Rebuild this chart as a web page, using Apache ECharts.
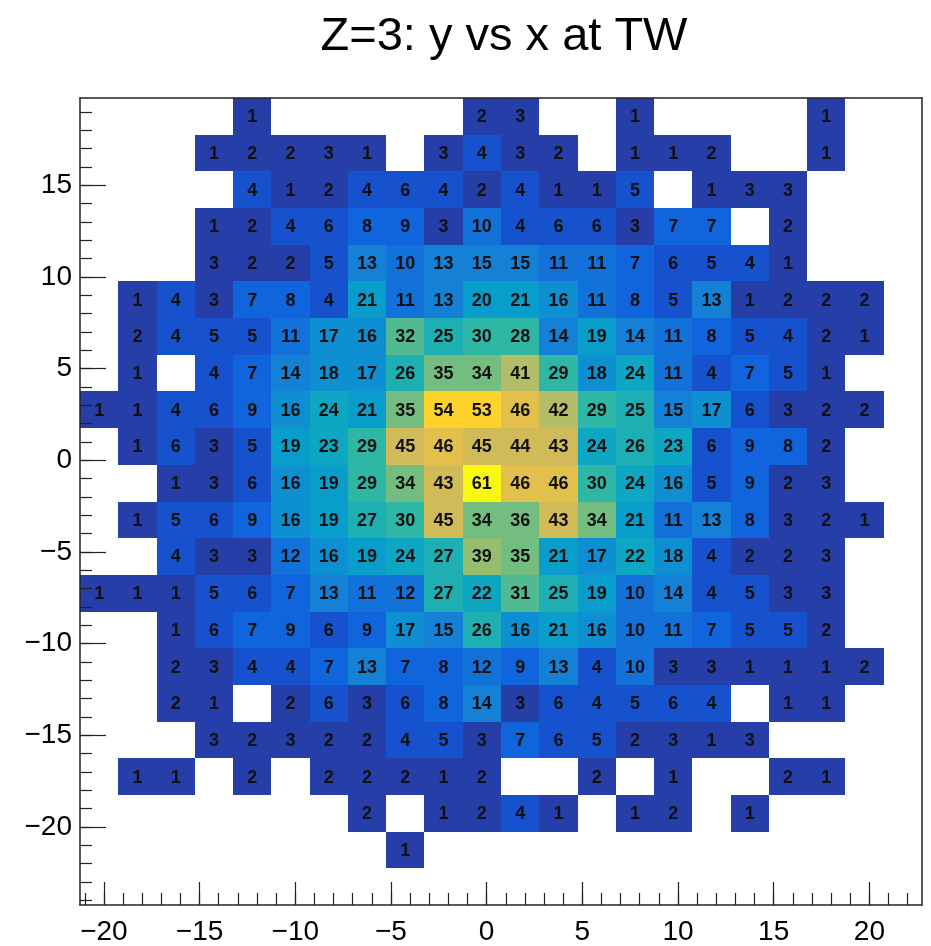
<!DOCTYPE html>
<html>
<head>
<meta charset="utf-8">
<script src="https://cdn.jsdelivr.net/npm/echarts@6/dist/echarts.min.js"></script>
<style>
html,body{margin:0;padding:0;background:#fff;}
#chart{width:931px;height:946px;}
</style>
</head>
<body>
<div id="chart"></div>
<script>
// ---------------- data ----------------
const chartTitle = 'Z=3: y vs x at TW';
const binWidth = 2;
const binHeight = 2;
const xRange = [-21.25, 22.75];
const yRange = [-24.25, 19.75];
// bin centres (x: left to right, y: top to bottom)
const xCenters = [-20.25, -18.25, -16.25, -14.25, -12.25, -10.25, -8.25, -6.25, -4.25, -2.25, -0.25,
                  1.75, 3.75, 5.75, 7.75, 9.75, 11.75, 13.75, 15.75, 17.75, 19.75, 21.75];
const yCenters = [18.75, 16.75, 14.75, 12.75, 10.75, 8.75, 6.75, 4.75, 2.75, 0.75, -1.25,
                  -3.25, -5.25, -7.25, -9.25, -11.25, -13.25, -15.25, -17.25, -19.25, -21.25, -23.25];
// bin contents, one row per y bin (top to bottom), one column per x bin (left to right); 0 = empty
const counts = [
  [0,0,0,0,1,0,0,0,0,0,2,3,0,0,1,0,0,0,0,1,0,0],
  [0,0,0,1,2,2,3,1,0,3,4,3,2,0,1,1,2,0,0,1,0,0],
  [0,0,0,0,4,1,2,4,6,4,2,4,1,1,5,0,1,3,3,0,0,0],
  [0,0,0,1,2,4,6,8,9,3,10,4,6,6,3,7,7,0,2,0,0,0],
  [0,0,0,3,2,2,5,13,10,13,15,15,11,11,7,6,5,4,1,0,0,0],
  [0,1,4,3,7,8,4,21,11,13,20,21,16,11,8,5,13,1,2,2,2,0],
  [0,2,4,5,5,11,17,16,32,25,30,28,14,19,14,11,8,5,4,2,1,0],
  [0,1,0,4,7,14,18,17,26,35,34,41,29,18,24,11,4,7,5,1,0,0],
  [1,1,4,6,9,16,24,21,35,54,53,46,42,29,25,15,17,6,3,2,2,0],
  [0,1,6,3,5,19,23,29,45,46,45,44,43,24,26,23,6,9,8,2,0,0],
  [0,0,1,3,6,16,19,29,34,43,61,46,46,30,24,16,5,9,2,3,0,0],
  [0,1,5,6,9,16,19,27,30,45,34,36,43,34,21,11,13,8,3,2,1,0],
  [0,0,4,3,3,12,16,19,24,27,39,35,21,17,22,18,4,2,2,3,0,0],
  [1,1,1,5,6,7,13,11,12,27,22,31,25,19,10,14,4,5,3,3,0,0],
  [0,0,1,6,7,9,6,9,17,15,26,16,21,16,10,11,7,5,5,2,0,0],
  [0,0,2,3,4,4,7,13,7,8,12,9,13,4,10,3,3,1,1,1,2,0],
  [0,0,2,1,0,2,6,3,6,8,14,3,6,4,5,6,4,0,1,1,0,0],
  [0,0,0,3,2,3,2,2,4,5,3,7,6,5,2,3,1,3,0,0,0,0],
  [0,1,1,0,2,0,2,2,2,1,2,0,0,2,0,1,0,0,2,1,0,0],
  [0,0,0,0,0,0,0,2,0,1,2,4,1,0,1,2,0,1,0,0,0,0],
  [0,0,0,0,0,0,0,0,1,0,0,0,0,0,0,0,0,0,0,0,0,0],
  [0,0,0,0,0,0,0,0,0,0,0,0,0,0,0,0,0,0,0,0,0,0]
];
const xTickLabels = [-20, -15, -10, -5, 0, 5, 10, 15, 20];
const yTickLabels = [-20, -15, -10, -5, 0, 5, 10, 15];
const xMinorTicks = [];
for (let v = Math.ceil(xRange[0]); v <= Math.floor(xRange[1]); v++) xMinorTicks.push(v);
const yMinorTicks = [];
for (let v = Math.ceil(yRange[0]); v <= Math.floor(yRange[1]); v++) yMinorTicks.push(v);

// ---------------- ROOT kBird palette ----------------
const birdStops = [0.0000, 0.1250, 0.2500, 0.3750, 0.5000, 0.6250, 0.7500, 0.8750, 1.0000];
const birdR = [0.2082, 0.0592, 0.0780, 0.0232, 0.1802, 0.5301, 0.8186, 0.9956, 0.9764];
const birdG = [0.1664, 0.3599, 0.5041, 0.6419, 0.7178, 0.7492, 0.7328, 0.7862, 0.9832];
const birdB = [0.5293, 0.8684, 0.8385, 0.7914, 0.6425, 0.4662, 0.3499, 0.1968, 0.0539];
const NCOL = 255, NDIV = 20;
function birdColor(idx) {
  for (let g = 1; g < birdStops.length; g++) {
    const a = Math.floor(NCOL * birdStops[g - 1]);
    const b = Math.floor(NCOL * birdStops[g]);
    if (idx < b || g === birdStops.length - 1) {
      const t = (idx - a) / (b - a);
      const r = Math.round(255 * (birdR[g - 1] + t * (birdR[g] - birdR[g - 1])));
      const gg = Math.round(255 * (birdG[g - 1] + t * (birdG[g] - birdG[g - 1])));
      const bb = Math.round(255 * (birdB[g - 1] + t * (birdB[g] - birdB[g - 1])));
      return 'rgb(' + r + ',' + gg + ',' + bb + ')';
    }
  }
}

// ---------------- build series data ----------------
const cells = [];
let zmax = 0;
counts.forEach((row, j) => row.forEach((v, i) => {
  if (v > 0) { cells.push([xCenters[i], yCenters[j], v]); zmax = Math.max(zmax, v); }
}));
const pieces = [];
for (let k = 0; k < NDIV; k++) {
  const lo = k * zmax / NDIV, hi = (k + 1) * zmax / NDIV;
  const idx = Math.min(NCOL - 1, Math.floor((k + 0.99) * NCOL / NDIV));
  const p = { gte: lo, color: birdColor(idx) };
  if (k === NDIV - 1) p.lte = zmax + 1; else p.lt = hi;
  pieces.push(p);
}

const FONT = '"Liberation Sans", Arial, Helvetica, sans-serif';
const minus = v => String(v).replace('-', '\u2212');
const frameColor = '#222';

const chart = echarts.init(document.getElementById('chart'), null, { renderer: 'canvas' });
chart.setOption({
  animation: false,
  backgroundColor: '#fff',
  title: {
    text: chartTitle,
    left: 499, textAlign: 'center', top: 9,
    textStyle: { fontFamily: FONT, fontSize: 47, fontWeight: 'normal', color: '#000' }
  },
  grid: { left: 80, right: 9, top: 98, bottom: 41, containLabel: false },
  visualMap: {
    type: 'piecewise', show: false, dimension: 2, seriesIndex: 0, pieces: pieces
  },
  xAxis: [
    {
      type: 'value', min: xRange[0], max: xRange[1], position: 'bottom', z: 10,
      axisLine: { show: true, onZero: false, lineStyle: { color: frameColor, width: 1.5 } },
      axisTick: { show: true, inside: true, length: 23, customValues: xTickLabels, lineStyle: { color: frameColor, width: 1.2 } },
      axisLabel: { show: true, customValues: xTickLabels, formatter: minus, margin: 13,
        fontFamily: FONT, fontSize: 28, color: '#000' },
      splitLine: { show: false }
    },
    {
      type: 'value', min: xRange[0], max: xRange[1], position: 'bottom', z: 10,
      axisLine: { show: false, onZero: false },
      axisTick: { show: true, inside: true, length: 12, customValues: xMinorTicks, lineStyle: { color: frameColor, width: 1.2 } },
      axisLabel: { show: false },
      splitLine: { show: false }
    },
    {
      type: 'value', min: xRange[0], max: xRange[1], position: 'top', z: 10,
      axisLine: { show: true, onZero: false, lineStyle: { color: frameColor, width: 1.5 } },
      axisTick: { show: false }, axisLabel: { show: false }, splitLine: { show: false }
    }
  ],
  yAxis: [
    {
      type: 'value', min: yRange[0], max: yRange[1], position: 'left', z: 10,
      axisLine: { show: true, onZero: false, lineStyle: { color: frameColor, width: 1.5 } },
      axisTick: { show: true, inside: true, length: 26, customValues: yTickLabels, lineStyle: { color: frameColor, width: 1.2 } },
      axisLabel: { show: true, customValues: yTickLabels, formatter: minus, margin: 8,
        fontFamily: FONT, fontSize: 28, color: '#000' },
      splitLine: { show: false }
    },
    {
      type: 'value', min: yRange[0], max: yRange[1], position: 'left', z: 10,
      axisLine: { show: false, onZero: false },
      axisTick: { show: true, inside: true, length: 12, customValues: yMinorTicks, lineStyle: { color: frameColor, width: 1.2 } },
      axisLabel: { show: false },
      splitLine: { show: false }
    },
    {
      type: 'value', min: yRange[0], max: yRange[1], position: 'right', z: 10,
      axisLine: { show: true, onZero: false, lineStyle: { color: frameColor, width: 1.5 } },
      axisTick: { show: false }, axisLabel: { show: false }, splitLine: { show: false }
    }
  ],
  series: [{
    type: 'custom',
    xAxisIndex: 0, yAxisIndex: 0,
    data: cells,
    encode: { x: 0, y: 1 },
    renderItem: function (params, api) {
      const x = api.value(0), y = api.value(1), v = api.value(2);
      const p0 = api.coord([x - binWidth / 2, y + binHeight / 2]);
      const p1 = api.coord([x + binWidth / 2, y - binHeight / 2]);
      const x0 = Math.round(p0[0]), y0 = Math.round(p0[1]);
      const x1 = Math.round(p1[0]), y1 = Math.round(p1[1]);
      return {
        type: 'group',
        children: [
          { type: 'rect', shape: { x: x0, y: y0, width: x1 - x0, height: y1 - y0 },
            style: { fill: api.visual('color'), stroke: null } },
          { type: 'text',
            style: { x: (p0[0] + p1[0]) / 2, y: (p0[1] + p1[1]) / 2 + 1, text: String(v),
              align: 'center', verticalAlign: 'middle',
              font: 'bold 18px ' + FONT, fill: '#111' } }
        ]
      };
    }
  }]
});
</script>
</body>
</html>
